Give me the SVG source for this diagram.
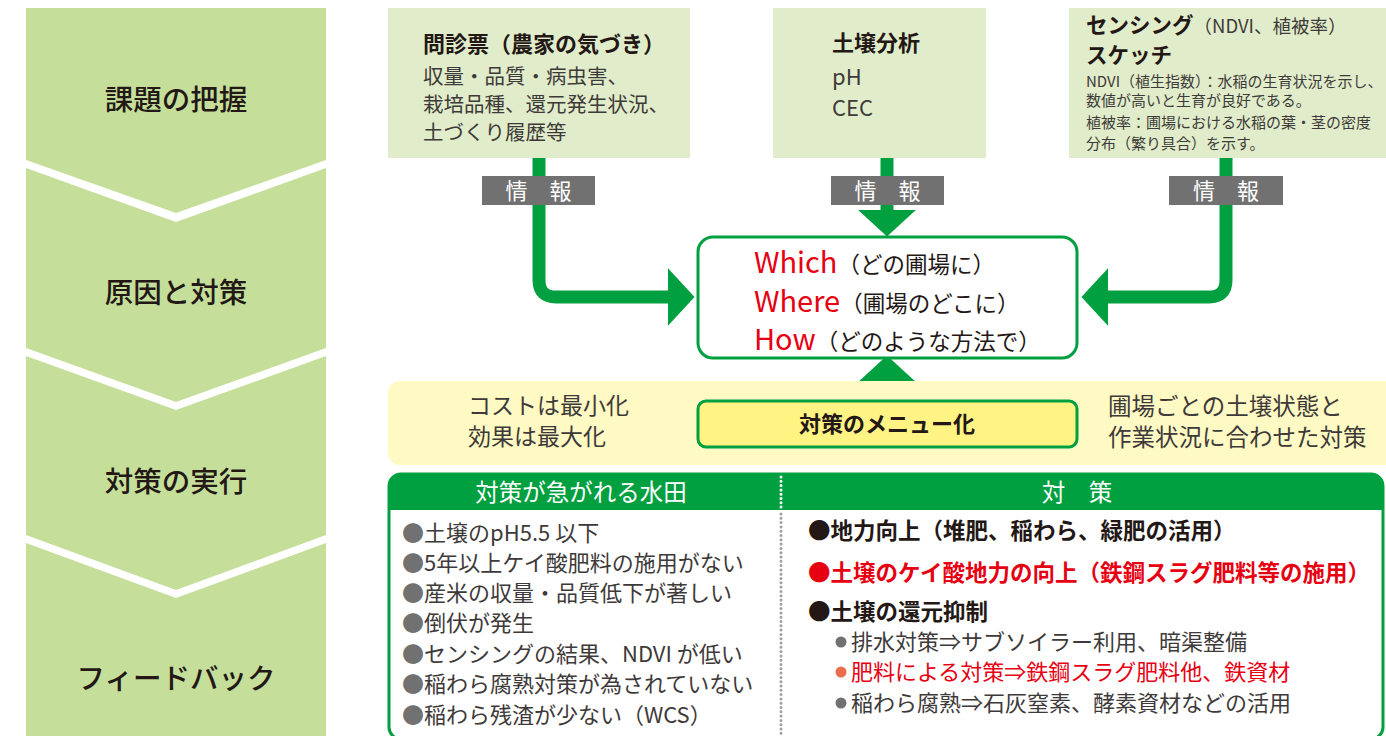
<svg xmlns="http://www.w3.org/2000/svg" width="1386" height="736" viewBox="0 0 1386 736">
<style>
text{font-family:"Noto Sans CJK JP","Noto Sans",sans-serif;}
.stage{fill:#c5df9b;}
.stxt{font-size:28.5px;font-weight:500;fill:#231815;text-anchor:middle;}
.src{fill:#e1edca;}
.h{font-size:22px;font-weight:bold;fill:#231815;}
.b{font-size:20.5px;fill:#3e3a39;}
.s{font-size:15px;fill:#3e3a39;}
.lab{fill:#727171;}
.labt{font-size:22px;fill:#fff;text-anchor:middle;}
.con{fill:none;stroke:#00a040;stroke-width:13;}
.red{fill:#e60012;}
.li{font-size:22px;fill:#3e3a39;}
.gb{fill:#727171;}
.rb{font-size:22.5px;font-weight:bold;fill:#231815;}
.bt{font-size:23px;fill:#3e3a39;}
</style>
<defs>
<marker id="ah" markerUnits="userSpaceOnUse" markerWidth="30" markerHeight="60" viewBox="0 -26 24 52" refX="0" refY="0" orient="auto"><path d="M0,-25 L23,0 L0,25 z" fill="#00a040"/></marker>
</defs>
<rect width="1386" height="736" fill="#fff"/>

<g id="stage1"><polygon class="stage" points="26,8 326,8 326,160 176,213 26,160"/><text class="stxt" x="176" y="110">課題の把握</text></g>
<g id="stage2"><polygon class="stage" points="26,168 176,222 326,168 326,348 176,402 26,348"/><text class="stxt" x="176" y="303">原因と対策</text></g>
<g id="stage3"><polygon class="stage" points="26,356 176,410 326,356 326,535 176,590 26,535"/><text class="stxt" x="176" y="492">対策の実行</text></g>
<g id="stage4"><polygon class="stage" points="26,543 176,598 326,543 326,736 26,736"/><text class="stxt" x="176" y="689">フィードバック</text></g>

<g id="connectors">
<path class="con" d="M539,158 V280 Q539,297 556,297 H668" marker-end="url(#ah)"/>
<path class="con" d="M1226,158 V280 Q1226,297 1209,297 H1108" marker-end="url(#ah)"/>
<path class="con" d="M887,158 V210" marker-end="url(#ah)"/>
<path class="con" d="M887,400 V382" marker-end="url(#ah)"/>
</g>

<g id="src1"><rect class="src" x="388" y="8" width="302" height="150"/>
<text class="h" x="423" y="52">問診票（農家の気づき）</text>
<text class="b" x="423" y="84">収量・品質・病虫害、</text>
<text class="b" x="423" y="112">栽培品種、還元発生状況、</text>
<text class="b" x="423" y="140">土づくり履歴等</text></g>
<g id="lab1"><rect class="lab" x="482" y="176" width="113" height="29"/><text class="labt" x="538.5" y="199">情　報</text></g>

<g id="src2"><rect class="src" x="773" y="8" width="213" height="150"/>
<text class="h" x="832" y="51">土壌分析</text>
<text class="b" x="832" y="85" style="font-size:22px">pH</text>
<text class="b" x="832" y="116" style="font-size:22px">CEC</text></g>
<g id="lab2"><rect class="lab" x="831" y="176" width="113" height="29"/><text class="labt" x="887.5" y="199">情　報</text></g>

<g id="src3"><rect class="src" x="1069" y="8" width="317" height="150"/>
<text class="h" x="1086" y="33" style="font-size:21.5px">センシング<tspan style="font-weight:normal;font-size:18.5px;fill:#3e3a39">（NDVI、植被率）</tspan></text>
<text class="h" x="1086" y="63" style="font-size:21.5px">スケッチ</text>
<text class="s" x="1086" y="87">NDVI（植生指数）：水稲の生育状況を示し、</text>
<text class="s" x="1086" y="106">数値が高いと生育が良好である。</text>
<text class="s" x="1086" y="128">植被率：圃場における水稲の葉・茎の密度</text>
<text class="s" x="1086" y="149">分布（繁り具合）を示す。</text></g>
<g id="lab3"><rect class="lab" x="1169" y="176" width="114" height="29"/><text class="labt" x="1226" y="199">情　報</text></g>

<g id="www"><rect x="698" y="237" width="379" height="121" rx="15" fill="#fff" stroke="#00a040" stroke-width="3"/>
<text x="754" y="273" style="font-size:29px" class="red">Which<tspan style="font-size:22.5px;fill:#231815">（どの圃場に）</tspan></text>
<text x="754" y="312" style="font-size:29px" class="red">Where<tspan style="font-size:22.5px;fill:#231815">（圃場のどこに）</tspan></text>
<text x="754" y="350" style="font-size:29px" class="red">How<tspan style="font-size:22.5px;fill:#231815">（どのような方法で）</tspan></text></g>

<g id="band"><rect x="388" y="381" width="1010" height="84" rx="12" fill="#fff9c4"/>
<text class="bt" x="468" y="414">コストは最小化</text>
<text class="bt" x="468" y="445">効果は最大化</text>
<text class="bt" x="1108" y="415" style="font-size:23.5px">圃場ごとの土壌状態と</text>
<text class="bt" x="1108" y="446" style="font-size:23.5px">作業状況に合わせた対策</text></g>

<g id="menu"><rect x="698" y="401" width="379" height="46" rx="8" fill="#fff383" stroke="#00a040" stroke-width="3"/>
<text x="887" y="432" text-anchor="middle" style="font-size:22px;font-weight:bold;fill:#231815">対策のメニュー化</text></g>

<g id="table">
<rect x="389" y="474" width="994" height="265" rx="12" fill="#fff" stroke="#00a040" stroke-width="3"/>
<path d="M389,510 V486 Q389,474 401,474 H1371 Q1383,474 1383,486 V510 z" fill="#00a040"/>
<line x1="781" y1="477" x2="781" y2="509" stroke="#fff" stroke-width="3" stroke-linecap="round" stroke-dasharray="0 4.3"/>
<line x1="781" y1="514" x2="781" y2="736" stroke="#9fa0a0" stroke-width="3" stroke-linecap="round" stroke-dasharray="0 4.3"/>
<text x="581" y="501" text-anchor="middle" style="font-size:23.5px;fill:#fff">対策が急がれる水田</text>
<text x="1077" y="501" text-anchor="middle" style="font-size:23.5px;fill:#fff">対　策</text>
<g class="li">
<text x="402" y="541"><tspan class="gb">●</tspan>土壌のpH5.5 以下</text>
<text x="402" y="571"><tspan class="gb">●</tspan>5年以上ケイ酸肥料の施用がない</text>
<text x="402" y="601"><tspan class="gb">●</tspan>産米の収量・品質低下が著しい</text>
<text x="402" y="631"><tspan class="gb">●</tspan>倒伏が発生</text>
<text x="402" y="662"><tspan class="gb">●</tspan>センシングの結果、NDVI が低い</text>
<text x="402" y="692"><tspan class="gb">●</tspan>稲わら腐熟対策が為されていない</text>
<text x="402" y="723"><tspan class="gb">●</tspan>稲わら残渣が少ない（WCS）</text>
</g>
<text class="rb" x="808" y="539">●地力向上（堆肥、稲わら、緑肥の活用）</text>
<text class="rb" x="808" y="581" style="fill:#e60012">●土壌のケイ酸地力の向上（鉄鋼スラグ肥料等の施用）</text>
<text class="rb" x="808" y="620">●土壌の還元抑制</text>
<circle cx="841" cy="642" r="5.5" fill="#727171"/>
<text class="li" x="851" y="650">排水対策⇒サブソイラー利用、暗渠整備</text>
<circle cx="841" cy="672" r="5.5" fill="#ec6d4e"/>
<text class="li" x="851" y="680" style="fill:#e60012">肥料による対策⇒鉄鋼スラグ肥料他、鉄資材</text>
<circle cx="841" cy="703" r="5.5" fill="#727171"/>
<text class="li" x="851" y="711">稲わら腐熟⇒石灰窒素、酵素資材などの活用</text>
</g>
</svg>
